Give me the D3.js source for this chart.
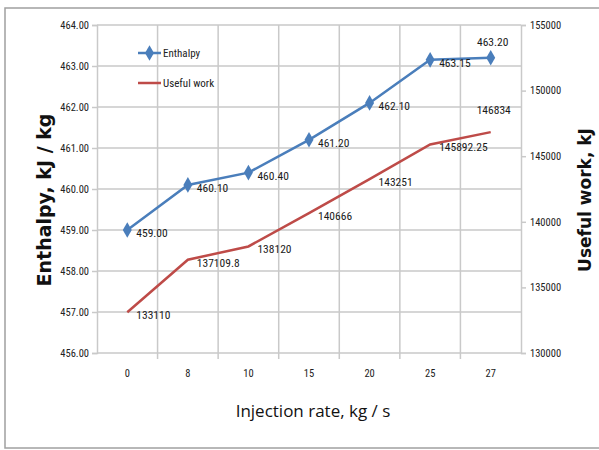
<!DOCTYPE html>
<html>
<head>
<meta charset="utf-8">
<script src="https://cdn.jsdelivr.net/npm/d3@7"></script>
<style>
  html, body { margin: 0; padding: 0; background: #fff; }
  svg { display: block; }
</style>
</head>
<body>
<svg id="chart" width="599" height="450"></svg>
<script>
// Injection rate categories (kg/s)
const categories = ["0", "8", "10", "15", "20", "25", "27"];
// Enthalpy, kJ/kg
const enthalpy = [459.00, 460.10, 460.40, 461.20, 462.10, 463.15, 463.20];
const enthalpyLabels = ["459.00", "460.10", "460.40", "461.20", "462.10", "463.15", "463.20"];
// Useful work, kJ
const usefulWork = [133110, 137109.8, 138120, 140666, 143251, 145892.25, 146834];
const usefulWorkLabels = ["133110", "137109.8", "138120", "140666", "143251", "145892.25", "146834"];
// Axis ticks
const leftTicks = [456, 457, 458, 459, 460, 461, 462, 463, 464];
const rightTicks = [130000, 135000, 140000, 145000, 150000, 155000];

const blue = "#4a7ebb";
const red = "#be4b48";
const grid = "#c9c9c9";
const narrow = "'Liberation Sans Narrow', 'Roboto Condensed', 'Open Sans', sans-serif";

const svg = d3.select("#chart");
const m = { left: 97, right: 521, top: 25, bottom: 353 };

// outer frame
svg.append("rect").attr("x", 5).attr("y", 8).attr("width", 600).attr("height", 440)
  .attr("fill", "#fff").attr("stroke", "#a0a0a0").attr("stroke-width", 1.5);

const x = d3.scaleBand().domain(categories).range([m.left, m.right]);
const yL = d3.scaleLinear().domain([456, 464]).range([m.bottom, m.top]);
const yR = d3.scaleLinear().domain([130000, 155000]).range([m.bottom, m.top]);
const cx = d => x(d) + x.bandwidth() / 2;

// horizontal gridlines
svg.append("g").selectAll("line").data(leftTicks).join("line")
  .attr("x1", m.left).attr("x2", m.right)
  .attr("y1", d => yL(d)).attr("y2", d => yL(d))
  .attr("stroke", grid).attr("stroke-width", 1.5);

// vertical gridlines at category boundaries (extending as ticks below the axis)
const bounds = categories.map(c => x(c)).concat([m.right]);
svg.append("g").selectAll("line").data(bounds.slice(1, -1)).join("line")
  .attr("x1", d => d).attr("x2", d => d)
  .attr("y1", m.top).attr("y2", m.bottom + 6)
  .attr("stroke", grid).attr("stroke-width", 1.5);

// left axis
const gL = svg.append("g").attr("transform", `translate(${m.left},0)`)
  .call(d3.axisLeft(yL).tickValues(leftTicks).tickFormat(d3.format(".2f")).tickSize(5).tickPadding(3));
gL.select(".domain").attr("stroke", grid).attr("stroke-width", 1.5);
gL.selectAll(".tick line").attr("stroke", grid).attr("stroke-width", 1.5);
gL.selectAll("text").attr("font-family", narrow).attr("font-size", 10.5).attr("fill", "#222");

// right axis
const gR = svg.append("g").attr("transform", `translate(${m.right},0)`)
  .call(d3.axisRight(yR).tickValues(rightTicks).tickFormat(d3.format("d")).tickSize(5).tickPadding(4));
gR.select(".domain").attr("stroke", grid).attr("stroke-width", 1.5);
gR.selectAll(".tick line").attr("stroke", grid).attr("stroke-width", 1.5);
gR.selectAll("text").attr("font-family", narrow).attr("font-size", 10.5).attr("fill", "#222");

// bottom axis (labels only; baseline is the 456 gridline)
const gB = svg.append("g").attr("transform", `translate(0,${m.bottom})`)
  .call(d3.axisBottom(x).tickSize(0).tickPadding(17));
gB.select(".domain").remove();
gB.selectAll("text").attr("font-family", narrow).attr("font-size", 10.5).attr("fill", "#222");

// useful work line
const lineR = d3.line().x((d, i) => cx(categories[i])).y(d => yR(d));
svg.append("path").datum(usefulWork).attr("d", lineR)
  .attr("fill", "none").attr("stroke", red).attr("stroke-width", 2.5);

// enthalpy line
const lineL = d3.line().x((d, i) => cx(categories[i])).y(d => yL(d));
svg.append("path").datum(enthalpy).attr("d", lineL)
  .attr("fill", "none").attr("stroke", blue).attr("stroke-width", 2.5);

const diamond = d3.symbol().type(d3.symbolDiamond).size(70);
svg.append("g").selectAll("path").data(enthalpy).join("path")
  .attr("d", diamond)
  .attr("transform", (d, i) => `translate(${cx(categories[i])},${yL(d)})`)
  .attr("fill", blue);

// data labels
const lab = svg.append("g").attr("font-family", narrow).attr("font-size", 11.5).attr("fill", "#1a1a1a");
enthalpy.forEach((v, i) => {
  const last = i === enthalpy.length - 1;
  lab.append("text")
    .attr("x", last ? cx(categories[i]) + 2 : cx(categories[i]) + 9)
    .attr("y", last ? yL(v) - 12 : yL(v) + 7)
    .attr("text-anchor", last ? "middle" : "start")
    .text(enthalpyLabels[i]);
});
usefulWork.forEach((v, i) => {
  const last = i === usefulWork.length - 1;
  lab.append("text")
    .attr("x", last ? cx(categories[i]) + 3 : cx(categories[i]) + 9)
    .attr("y", last ? yR(v) - 18 : yR(v) + 7)
    .attr("text-anchor", last ? "middle" : "start")
    .text(usefulWorkLabels[i]);
});

// legend
const lg = svg.append("g").attr("font-family", narrow).attr("font-size", 11).attr("fill", "#222");
lg.append("line").attr("x1", 138).attr("x2", 161).attr("y1", 53).attr("y2", 53)
  .attr("stroke", blue).attr("stroke-width", 2.5);
lg.append("path").attr("d", diamond).attr("transform", "translate(149.5,53)").attr("fill", blue);
lg.append("text").attr("x", 163).attr("y", 57).text("Enthalpy");
lg.append("line").attr("x1", 138).attr("x2", 161).attr("y1", 83).attr("y2", 83)
  .attr("stroke", red).attr("stroke-width", 2.5);
lg.append("text").attr("x", 163).attr("y", 87).text("Useful work");

// axis titles
svg.append("text")
  .attr("transform", "translate(51,200) rotate(-90)")
  .attr("text-anchor", "middle")
  .attr("font-family", "'DejaVu Sans', Verdana, sans-serif").attr("font-weight", "bold")
  .attr("font-size", 19).attr("fill", "#111")
  .text("Enthalpy, kJ / kg");
svg.append("text")
  .attr("transform", "translate(591,200) rotate(-90)")
  .attr("text-anchor", "middle")
  .attr("font-family", "'DejaVu Sans', Verdana, sans-serif").attr("font-weight", "bold")
  .attr("font-size", 17).attr("fill", "#111")
  .text("Useful work, kJ");
svg.append("text")
  .attr("x", 313).attr("y", 417)
  .attr("text-anchor", "middle")
  .attr("font-family", "'Open Sans', sans-serif")
  .attr("font-size", 17).attr("fill", "#111")
  .text("Injection rate, kg / s");
</script>
</body>
</html>
